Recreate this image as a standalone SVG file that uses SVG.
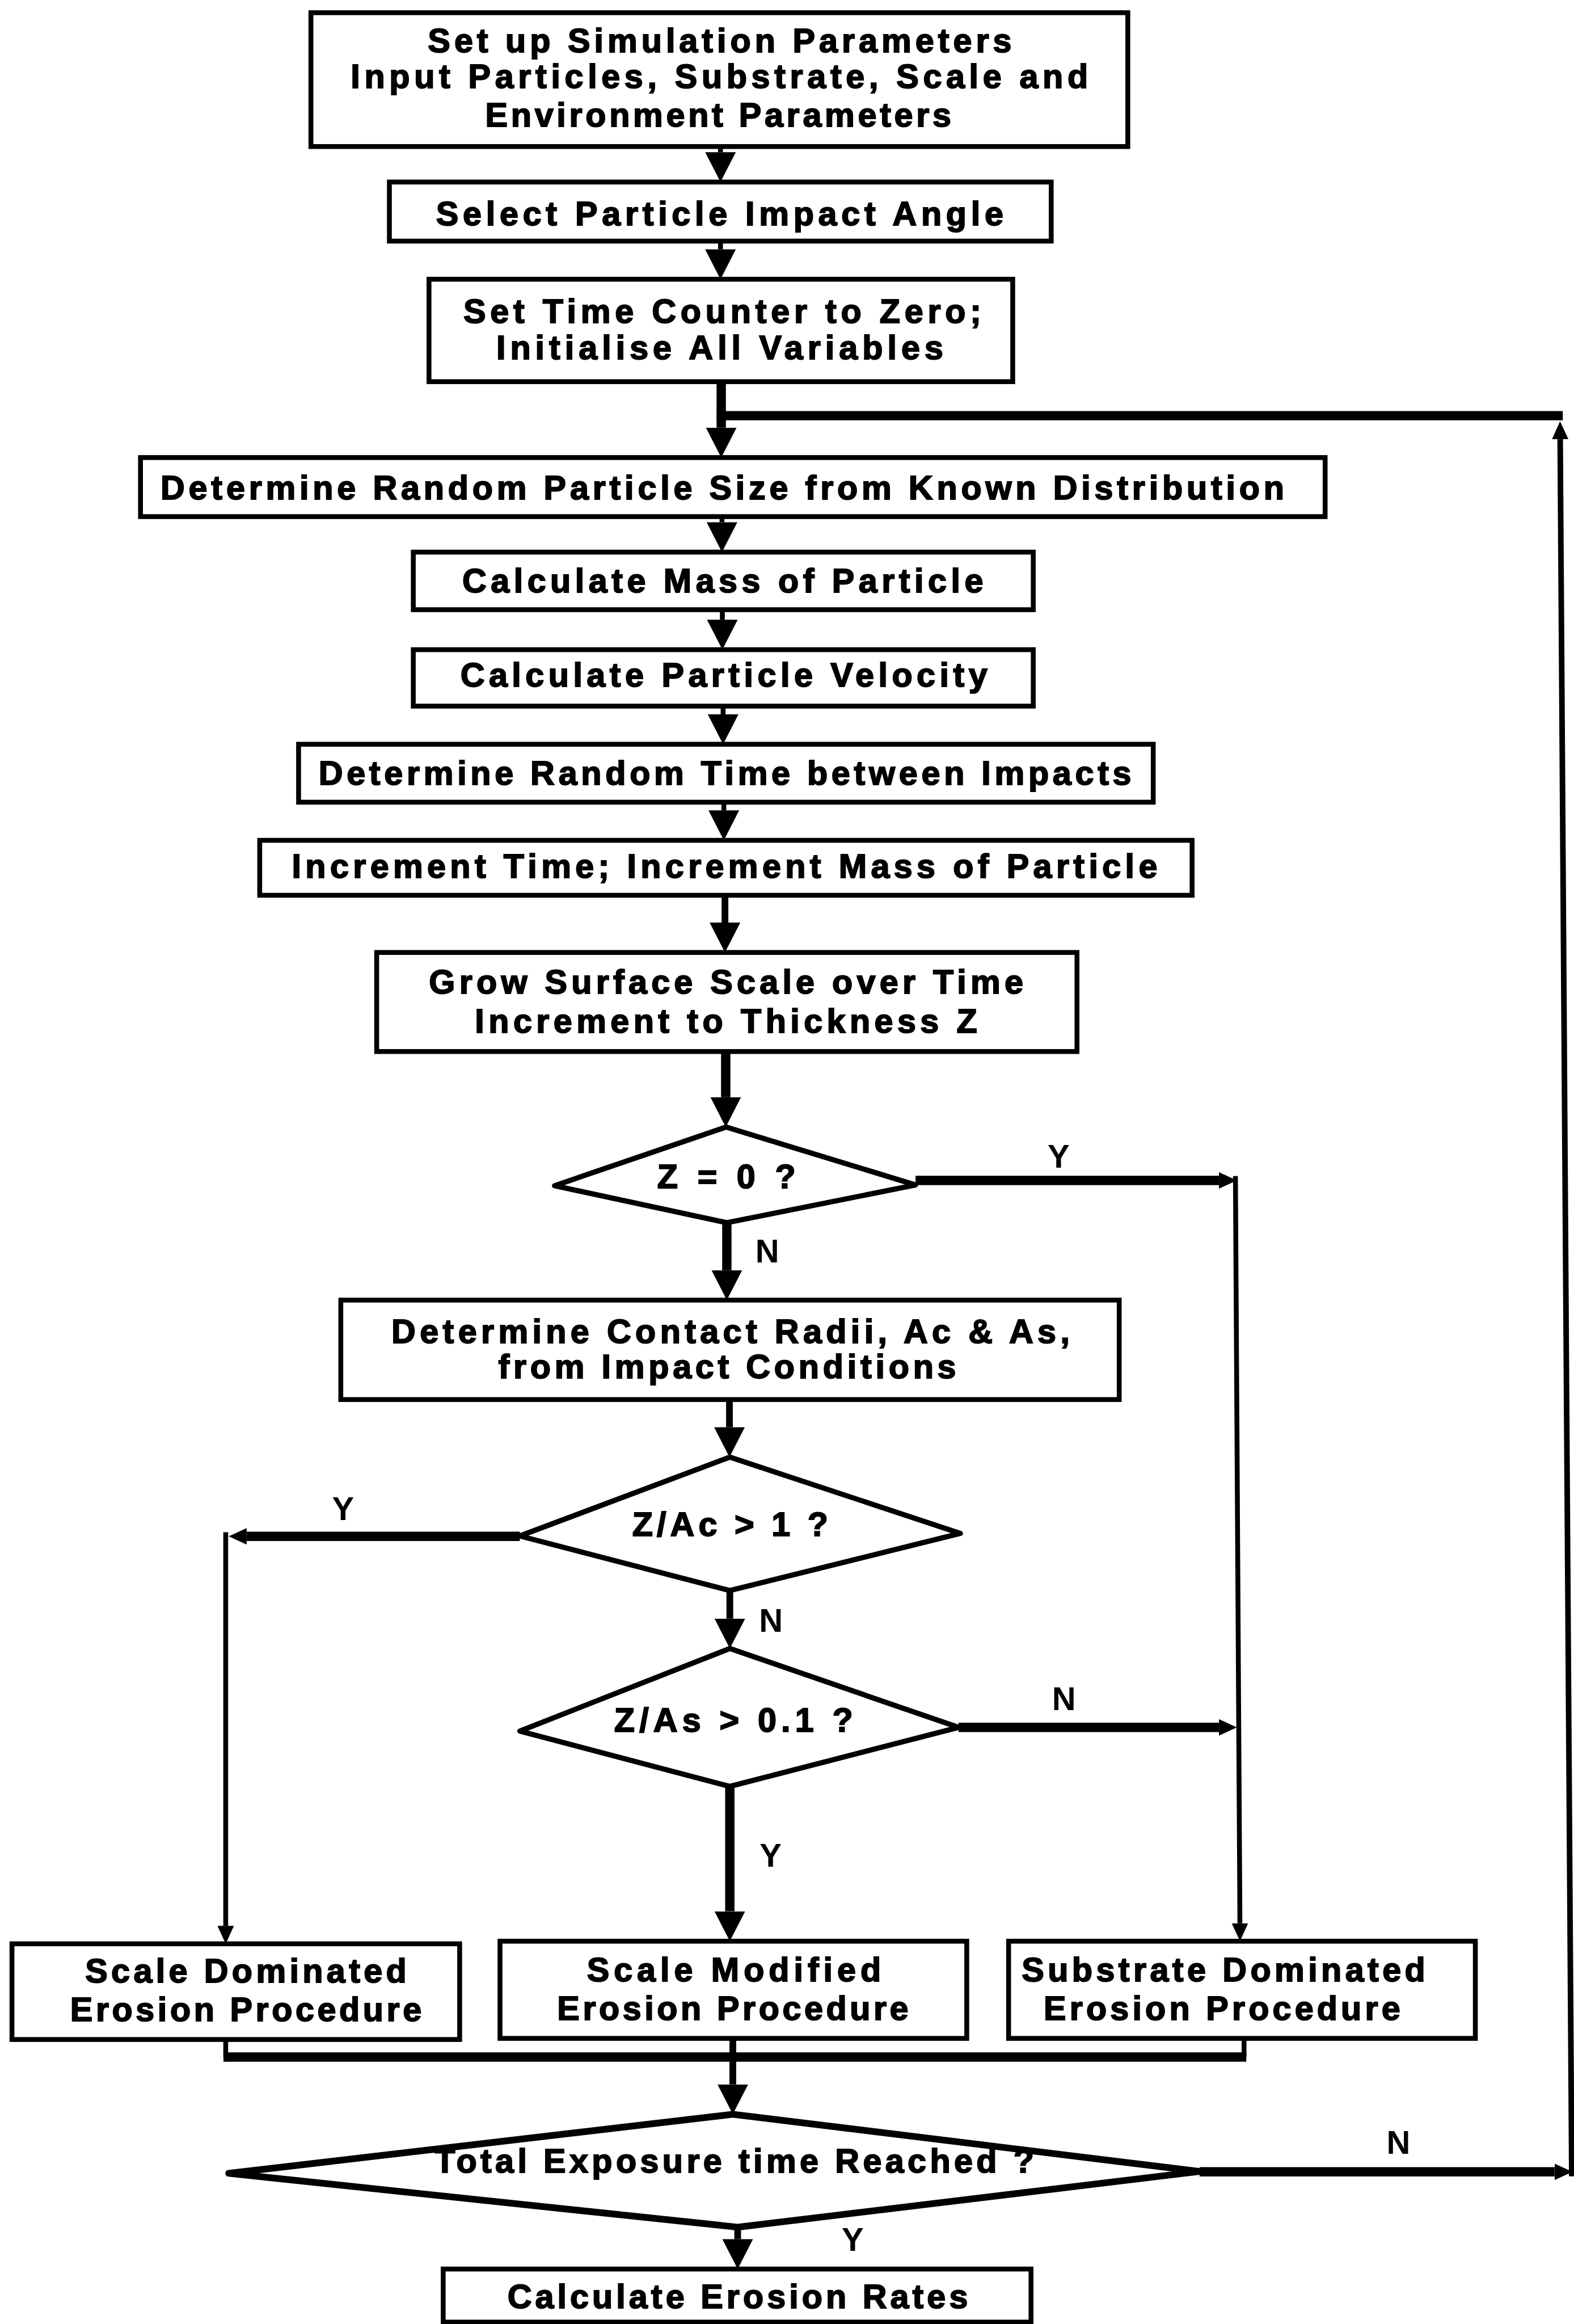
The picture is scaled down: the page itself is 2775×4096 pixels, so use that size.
<svg xmlns="http://www.w3.org/2000/svg" width="2775" height="4096" viewBox="0 0 2775 4096">
  <defs>
    <style>
      .box { fill: #fff; stroke: #000; stroke-width: 13; }
      .dia { fill: #fff; stroke: #000; stroke-width: 14; stroke-linejoin: round; }
      .dia-big { stroke-width: 18; }
      .t { font-family: "Liberation Sans", Arial, Helvetica, sans-serif; font-weight: bold; font-size: 90px; fill: #000; stroke: #000; stroke-width: 3; text-anchor: middle; }
      .lbl { font-family: "Liberation Sans", Arial, Helvetica, sans-serif; font-weight: bold; font-size: 88px; fill: #000; text-anchor: middle; }
      .c { fill: none; stroke: #000; stroke-linecap: butt; stroke-linejoin: miter; }
      .thin { stroke-width: 13; }
      .mid { stroke-width: 18; }
      .thick { stroke-width: 25; }
    </style>
    <!-- large arrowhead: starts where the line ends and extends 80 units to the tip -->
    <marker id="ah" markerUnits="userSpaceOnUse" viewBox="0 -42 82 84" refX="0" refY="0" markerWidth="82" markerHeight="84" orient="auto">
      <path d="M0,-41 L80,0 L0,41 Z" fill="#000"/>
    </marker>
    <!-- small arrowhead for branch corners -->
    <marker id="ahs" markerUnits="userSpaceOnUse" viewBox="0 -24 50 48" refX="0" refY="0" markerWidth="50" markerHeight="48" orient="auto">
      <path d="M0,-22 L48,0 L0,22 Z" fill="#000"/>
    </marker>
  </defs>

  <rect x="0" y="0" width="2775" height="4096" fill="#fff"/>

  <g transform="scale(0.658832)">
    <!-- flow lines -->
    <g id="connectors">
      <path class="c thin" d="M1928,392 V407" marker-end="url(#ah)"/>
      <path class="c thin" d="M1928,645 V667" marker-end="url(#ah)"/>
      <path class="c thick" d="M1930,1021 V1144" marker-end="url(#ah)"/>
      <path class="c thick" d="M4182,1112 H1918"/>
      <path class="c thin" d="M1932,1382 V1397" marker-end="url(#ah)"/>
      <path class="c thin" d="M1933,1631 V1658" marker-end="url(#ah)"/>
      <path class="c thin" d="M1935,1889 V1911" marker-end="url(#ah)"/>
      <path class="c thin" d="M1937,2146 V2168" marker-end="url(#ah)"/>
      <path class="c mid" d="M1940,2395 V2468" marker-end="url(#ah)"/>
      <path class="c thick" d="M1942,2813 V2935" marker-end="url(#ah)"/>

      <!-- Z = 0 ? : Y branch to substrate procedure -->
      <path class="c thick" d="M2450,3158 H3262" marker-end="url(#ahs)"/>
      <path class="c thin" d="M3306,3146 L3318,5145" marker-end="url(#ahs)"/>
      <!-- Z = 0 ? : N branch -->
      <path class="c thick" d="M1945,3271 V3398" marker-end="url(#ah)"/>

      <path class="c mid" d="M1952,3744 V3818" marker-end="url(#ah)"/>

      <!-- Z/Ac > 1 ? : Y branch to scale dominated procedure -->
      <path class="c thick" d="M1391,4110 H660" marker-end="url(#ahs)"/>
      <path class="c thin" d="M604,4099 V5152" marker-end="url(#ahs)"/>
      <!-- Z/Ac > 1 ? : N branch -->
      <path class="c mid" d="M1953,4255 V4330" marker-end="url(#ah)"/>

      <!-- Z/As > 0.1 ? : N branch joins the substrate line -->
      <path class="c thick" d="M2565,4621 H3262" marker-end="url(#ahs)"/>
      <!-- Z/As > 0.1 ? : Y branch -->
      <path class="c thick" d="M1953,4779 V5113" marker-end="url(#ah)"/>

      <!-- procedures merge -->
      <path class="c thin" d="M604,5456 V5503"/>
      <path class="c thin" d="M3329,5453 V5503"/>
      <path class="c thick" d="M598,5503 H3335"/>
      <path class="c mid" d="M1961,5453 V5576" marker-end="url(#ah)"/>

      <!-- exposure time not reached: loop back -->
      <path class="c thick" d="M3210,5810 H4160" marker-end="url(#ahs)"/>
      <path class="c thin" d="M4206,5822 L4175,1175" marker-end="url(#ahs)" style="stroke-width:15"/>
      <!-- exposure time reached -->
      <path class="c mid" d="M1974,5958 V5990" marker-end="url(#ah)"/>
    </g>

    <g id="setup">
      <rect class="box" x="832" y="34" width="2186" height="358"/>
      <text class="t" x="1926" y="139" textLength="1562" lengthAdjust="spacing">Set up Simulation Parameters</text>
      <text class="t" x="1925" y="235" textLength="1973" lengthAdjust="spacing">Input Particles, Substrate, Scale and</text>
      <text class="t" x="1922" y="338" textLength="1247" lengthAdjust="spacing">Environment Parameters</text>
    </g>

    <g id="impact-angle">
      <rect class="box" x="1042" y="487" width="1771" height="158"/>
      <text class="t" x="1926" y="603" textLength="1518" lengthAdjust="spacing">Select Particle Impact Angle</text>
    </g>

    <g id="init">
      <rect class="box" x="1148" y="747" width="1562" height="274"/>
      <text class="t" x="1933" y="863" textLength="1386" lengthAdjust="spacing">Set Time Counter to Zero;</text>
      <text class="t" x="1926" y="961" textLength="1196" lengthAdjust="spacing">Initialise All Variables</text>
    </g>

    <g id="particle-size">
      <rect class="box" x="376" y="1224" width="3170" height="158"/>
      <text class="t" x="1933" y="1336" textLength="3007" lengthAdjust="spacing">Determine Random Particle Size from Known Distribution</text>
    </g>

    <g id="mass">
      <rect class="box" x="1106" y="1477" width="1659" height="154"/>
      <text class="t" x="1934" y="1585" textLength="1394" lengthAdjust="spacing">Calculate Mass of Particle</text>
    </g>

    <g id="velocity">
      <rect class="box" x="1106" y="1738" width="1659" height="151"/>
      <text class="t" x="1937" y="1836" textLength="1410" lengthAdjust="spacing">Calculate Particle Velocity</text>
    </g>

    <g id="time-between">
      <rect class="box" x="799" y="1991" width="2287" height="155"/>
      <text class="t" x="1940" y="2099" textLength="2175" lengthAdjust="spacing">Determine Random Time between Impacts</text>
    </g>

    <g id="increment">
      <rect class="box" x="695" y="2248" width="2495" height="147"/>
      <text class="t" x="1939" y="2348" textLength="2316" lengthAdjust="spacing">Increment Time; Increment Mass of Particle</text>
    </g>

    <g id="grow-scale">
      <rect class="box" x="1008" y="2548" width="1874" height="265"/>
      <text class="t" x="1943" y="2657" textLength="1590" lengthAdjust="spacing">Grow Surface Scale over Time</text>
      <text class="t" x="1943" y="2763" textLength="1344" lengthAdjust="spacing">Increment to Thickness Z</text>
    </g>

    <g id="z-zero">
      <polygon class="dia" points="1943,3015 2450,3170 1945,3271 1484,3172"/>
      <text class="t" x="1944" y="3178" textLength="370" lengthAdjust="spacing">Z = 0 ?</text>
      <text class="lbl" x="2833" y="3123">Y</text>
      <text class="lbl" x="2053" y="3377">N</text>
    </g>

    <g id="contact-radii">
      <rect class="box" x="912" y="3478" width="2083" height="266"/>
      <text class="t" x="1955" y="3593" textLength="1815" lengthAdjust="spacing">Determine Contact Radii, Ac &amp; As,</text>
      <text class="t" x="1946" y="3687" textLength="1225" lengthAdjust="spacing">from Impact Conditions</text>
    </g>

    <g id="z-ac">
      <polygon class="dia" points="1953,3898 2570,4102 1953,4255 1391,4109"/>
      <text class="t" x="1954" y="4109" textLength="524" lengthAdjust="spacing">Z/Ac &gt; 1 ?</text>
      <text class="lbl" x="918" y="4067">Y</text>
      <text class="lbl" x="2063" y="4365">N</text>
    </g>

    <g id="z-as">
      <polygon class="dia" points="1953,4410 2565,4621 1953,4779 1391,4631"/>
      <text class="t" x="1963" y="4633" textLength="639" lengthAdjust="spacing">Z/As &gt; 0.1 ?</text>
      <text class="lbl" x="2847" y="4575">N</text>
      <text class="lbl" x="2062" y="4993">Y</text>
    </g>

    <g id="scale-dominated">
      <rect class="box" x="32" y="5200" width="1198" height="256"/>
      <text class="t" x="658" y="5303" textLength="860" lengthAdjust="spacing">Scale Dominated</text>
      <text class="t" x="658" y="5406" textLength="940" lengthAdjust="spacing">Erosion Procedure</text>
    </g>

    <g id="scale-modified">
      <rect class="box" x="1338" y="5193" width="1249" height="260"/>
      <text class="t" x="1964" y="5300" textLength="787" lengthAdjust="spacing">Scale Modified</text>
      <text class="t" x="1961" y="5404" textLength="940" lengthAdjust="spacing">Erosion Procedure</text>
    </g>

    <g id="substrate-dominated">
      <rect class="box" x="2699" y="5193" width="1249" height="260"/>
      <text class="t" x="3274" y="5300" textLength="1080" lengthAdjust="spacing">Substrate Dominated</text>
      <text class="t" x="3270" y="5404" textLength="954" lengthAdjust="spacing">Erosion Procedure</text>
    </g>

    <g id="exposure-check">
      <polygon class="dia dia-big" points="1961,5656 3210,5809 1974,5958 612,5814"/>
      <text class="t" x="1965" y="5812" textLength="1604" lengthAdjust="spacing">Total Exposure time Reached ?</text>
      <text class="lbl" x="3742" y="5762">N</text>
      <text class="lbl" x="2282" y="6021">Y</text>
    </g>

    <g id="erosion-rates">
      <rect class="box" x="1186" y="6070" width="1573" height="142"/>
      <text class="t" x="1974" y="6175" textLength="1232" lengthAdjust="spacing">Calculate Erosion Rates</text>
    </g>
  </g>
</svg>
